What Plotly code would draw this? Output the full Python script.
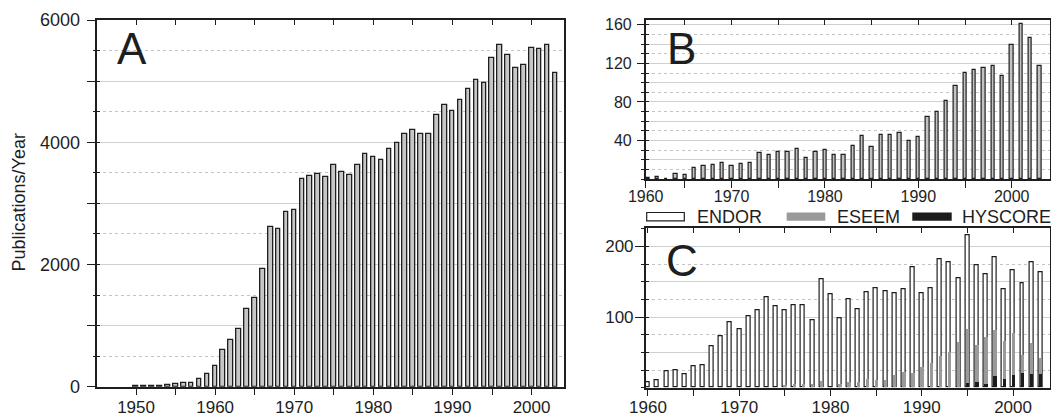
import plotly.graph_objects as go

# ---------------- data ----------------
years_a = list(range(1950, 2004))
pubs_a = [4, 6, 10, 16, 22, 40, 55, 65, 125, 207,
          343, 600, 763, 943, 1264, 1444, 1924, 2611, 2578, 2856,
          2894, 3395, 3444, 3488, 3439, 3630, 3515, 3466, 3630, 3809,
          3765, 3711, 3896, 3989, 4142, 4196, 4136, 4142, 4452, 4610,
          4507, 4698, 4872, 5024, 4970, 5374, 5597, 5434, 5215, 5265,
          5537, 5521, 5597, 5129]

years_b = list(range(1961, 2004))
pubs_b = [1, 2, 0, 5, 4, 11, 13, 15, 17,
          13, 16, 17, 27, 25, 28, 28, 31, 22, 28,
          30, 25, 25, 34, 45, 33, 46, 46, 48, 39,
          44, 64, 70, 81, 96, 110, 113, 115, 117, 107,
          139, 161, 146, 117]

years_c = list(range(1960, 2004))
endor_c = [8, 10, 23, 24, 19, 30, 32, 58, 73, 93,
           82, 101, 109, 128, 115, 109, 116, 117, 96, 153,
           132, 98, 125, 111, 135, 140, 137, 134, 139, 170,
           133, 140, 181, 178, 155, 215, 173, 161, 184, 139,
           166, 147, 177, 163]
eseem_c = [0, 0, 0, 0, 0, 0, 0, 0, 0, 0,
           0, 0, 0, 0, 0, 4, 5, 5, 5, 9,
           0, 5, 8, 8, 12, 11, 10, 18, 22, 21,
           29, 35, 44, 50, 64, 82, 60, 72, 81, 66,
           77, 46, 63, 42]
hyscore_c = [0, 0, 0, 0, 0, 0, 0, 0, 0, 0,
             0, 0, 0, 0, 0, 0, 0, 0, 0, 0,
             0, 0, 0, 0, 0, 0, 0, 0, 0, 0,
             0, 0, 0, 0, 0, 6, 8, 5, 16, 12,
             18, 20, 19, 19]
series_c = ["ENDOR", "ESEEM", "HYSCORE"]

xtick_years = [1950, 1960, 1970, 1980, 1990, 2000]
xtick_labels = ["1950", "1960", "1970", "1980", "1990", "2000"]
ytick_a = [0, 1000, 2000, 3000, 4000, 5000, 6000]
ytext_a = ["0", "", "2000", "", "4000", "", "6000"]
ylong_a = [0, 1000, 2000, 3000, 4000, 5000, 6000]
ytick_b = [0, 20, 40, 60, 80, 100, 120, 140, 160]
ytext_b = ["", "", "40", "", "80", "", "120", "", "160"]
ylong_b = [40, 80, 120, 160]
ytick_c = [0, 50, 100, 150, 200]
ytext_c = ["", "", "100", "", "200"]
ylong_c = [100, 200]
panel_labels = ["A", "B", "C"]
y_title = "Publications/Year"

# ---------------- style ----------------
W, H = 1051, 416
FONT = "Liberation Sans, Arial, sans-serif"
INK = "#1e1e1e"
GRID = "#d0d0d0"
GRID_DOT = "#c4c4c4"
FILL_A = "#c6c6c6"
FILL_B = "#c2c2c2"
ESEEM_COL = "#9a9a9a"
HYS_COL = "#1c1c1c"


def fx(p):
    return p / W


def fy(p):
    return 1 - p / H


RANGE_A = [1945.1, 2004.1]
RANGE_B = [1960.8, 2004.1]
RANGE_C = [1959.75, 2004.05]
YR_A = [0, 6000]
YR_B = [0, 165]
YR_C = [0, 225.5]

fig = go.Figure()

fig.add_trace(go.Bar(x=years_a, y=pubs_a, width=0.58, xaxis="x", yaxis="y",
                     marker=dict(color=FILL_A, line=dict(color=INK, width=1.3)),
                     showlegend=False))
fig.add_trace(go.Bar(x=years_b, y=pubs_b, width=0.36, xaxis="x2", yaxis="y2",
                     marker=dict(color=FILL_B, line=dict(color=INK, width=1.2)),
                     showlegend=False))
fig.add_trace(go.Bar(x=years_c, y=endor_c, width=0.43, xaxis="x3", yaxis="y3",
                     name=series_c[0],
                     marker=dict(color="white", line=dict(color=INK, width=1.2)),
                     showlegend=False))
fig.add_trace(go.Bar(x=years_c, y=eseem_c, width=0.37, xaxis="x3", yaxis="y3",
                     name=series_c[1],
                     marker=dict(color=ESEEM_COL, line=dict(width=0)),
                     showlegend=False))
fig.add_trace(go.Bar(x=years_c, y=hyscore_c, width=0.37, xaxis="x3", yaxis="y3",
                     name=series_c[2],
                     marker=dict(color=HYS_COL, line=dict(width=0)),
                     showlegend=False))
# empty traces so the overlay tick-only axes are created
overlay_pairs = [("x4", "y"), ("x5", "y2"), ("x6", "y3"),
                 ("x", "y4"), ("x", "y5"), ("x2", "y6"), ("x2", "y7"),
                 ("x3", "y8"), ("x3", "y9")]
for xa, ya in overlay_pairs:
    fig.add_trace(go.Scatter(x=[], y=[], xaxis=xa, yaxis=ya, showlegend=False,
                             hoverinfo="skip"))


def tfont(size):
    return dict(family=FONT, size=size, color=INK)


def main_x(domain, anchor, rng, vals, texts, size, standoff):
    return dict(domain=domain, anchor=anchor, range=rng, tickmode="array",
                tickvals=vals, ticktext=texts, showline=True, linecolor=INK,
                linewidth=1.5, mirror=True, ticks="outside", ticklen=7,
                tickwidth=1.3, tickcolor=INK, showgrid=False, zeroline=False,
                tickfont=tfont(size), ticklabelstandoff=standoff,
                minor=dict(dtick=5, tick0=1950, ticks="outside", ticklen=7,
                           tickwidth=1.3, tickcolor=INK, showgrid=False),
                fixedrange=True, automargin=False)


def main_y(domain, anchor, rng, vals, texts, minor_step, size, standoff):
    return dict(domain=domain, anchor=anchor, range=rng, tickmode="array",
                tickvals=vals, ticktext=texts, showline=True, linecolor=INK,
                linewidth=1.5, mirror=True, ticks="outside", ticklen=3,
                tickwidth=1.3, tickcolor=INK, showgrid=True, gridcolor=GRID,
                gridwidth=1.3, zeroline=False, tickfont=tfont(size),
                ticklabelstandoff=standoff,
                minor=dict(dtick=minor_step, tick0=0, ticks="outside", ticklen=3,
                           tickwidth=1.3, tickcolor=INK, showgrid=True,
                           gridcolor=GRID_DOT, griddash="dot", gridwidth=1),
                fixedrange=True, automargin=False)


def top_x(over, anchor, rng):
    return dict(overlaying=over, anchor=anchor, range=rng, side="top",
                showline=False, showgrid=False, zeroline=False,
                ticks="inside", ticklen=5, tickwidth=1.3, tickcolor=INK,
                showticklabels=False, tickmode="linear", tick0=1950, dtick=5,
                fixedrange=True)


def inner_y(over, anchor, rng, step):
    return dict(overlaying=over, anchor=anchor, range=rng, side="left",
                showline=False, showgrid=False, zeroline=False, ticks="inside",
                ticklen=3, tickwidth=1.3, tickcolor=INK, showticklabels=False,
                tickmode="linear", tick0=0, dtick=step, fixedrange=True)


def long_y(over, anchor, rng, vals, length):
    return dict(overlaying=over, anchor=anchor, range=rng, side="left",
                showline=False, showgrid=False, zeroline=False, ticks="outside",
                ticklen=length, tickwidth=1.3, tickcolor=INK,
                showticklabels=False, tickmode="array", tickvals=vals,
                fixedrange=True)


fig.update_layout(
    width=W, height=H,
    margin=dict(l=0, r=0, t=0, b=0),
    paper_bgcolor="white", plot_bgcolor="white",
    barmode="overlay", bargap=0,
    font=dict(family=FONT, size=17, color=INK),
    xaxis=main_x([fx(97.3), fx(564)], "y", RANGE_A, xtick_years, xtick_labels,
                 17, -3),
    yaxis=main_y([fy(386.7), fy(20)], "x", YR_A, ytick_a, ytext_a, 500, 18, 9),
    xaxis2=main_x([fx(645.7), fx(1050)], "y2", RANGE_B,
                  [RANGE_B[0]] + xtick_years[2:], xtick_labels[1:], 16, -5),
    yaxis2=main_y([fy(179), fy(20)], "x2", YR_B, ytick_b, ytext_b, 10, 16, 6),
    xaxis3=main_x([fx(645.7), fx(1050)], "y3", RANGE_C, xtick_years[1:],
                  xtick_labels[1:], 17, -4),
    yaxis3=main_y([fy(387.7), fy(228.3)], "x3", YR_C, ytick_c, ytext_c, 25,
                  17, 4),
    xaxis4=top_x("x", "y", RANGE_A),
    xaxis5=top_x("x2", "y2", RANGE_B),
    xaxis6=top_x("x3", "y3", RANGE_C),
    yaxis4=inner_y("y", "x", YR_A, 500),
    yaxis5=long_y("y", "x", YR_A, ylong_a, 9),
    yaxis6=inner_y("y2", "x2", YR_B, 10),
    yaxis7=long_y("y2", "x2", YR_B, ylong_b, 8),
    yaxis8=inner_y("y3", "x3", YR_C, 25),
    yaxis9=long_y("y3", "x3", YR_C, ylong_c, 10),
)

# panel letters
letter_pos = [(115, 48), (665, 48), (664, 260)]
for lab, (px, py) in zip(panel_labels, letter_pos):
    fig.add_annotation(text=lab, xref="paper", yref="paper", x=fx(px), y=fy(py),
                       xanchor="left", yanchor="middle", showarrow=False,
                       font=dict(family=FONT, size=44, color=INK))

# y-axis title
fig.add_annotation(text=y_title, xref="paper", yref="paper", x=fx(18.5),
                   y=fy(203), textangle=-90, showarrow=False,
                   xanchor="center", yanchor="middle",
                   font=dict(family=FONT, size=18, color=INK))

# legend for panel C (drawn as swatches + labels)
swatches = [
    dict(x0=646.7, x1=684.3, fill="white", line=dict(color=INK, width=1.2), tx=695),
    dict(x0=786.7, x1=825.3, fill=ESEEM_COL, line=dict(width=0), tx=835),
    dict(x0=912.3, x1=951.7, fill=HYS_COL, line=dict(width=0), tx=960),
]
for name, sw in zip(series_c, swatches):
    fig.add_shape(type="rect", xref="paper", yref="paper",
                  x0=fx(sw["x0"]), x1=fx(sw["x1"]), y0=fy(220.8), y1=fy(212.5),
                  fillcolor=sw["fill"], line=sw["line"])
    fig.add_annotation(text=name, xref="paper", yref="paper", x=fx(sw["tx"]),
                       y=fy(217), xanchor="left", yanchor="middle", showarrow=False,
                       font=dict(family=FONT, size=18, color=INK))

fig.write_html("out.html", config={"displayModeBar": False},
               post_script="document.body.style.margin='0';")
